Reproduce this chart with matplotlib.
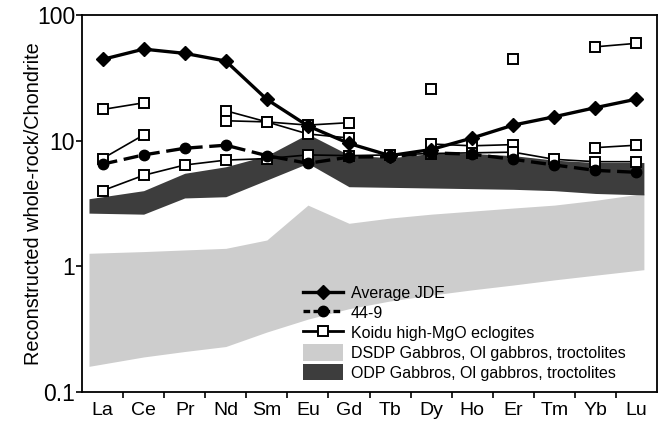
import numpy as np
import matplotlib
matplotlib.use("Agg")
import matplotlib.pyplot as plt
from matplotlib.patches import Patch
from matplotlib.lines import Line2D

plt.rcParams['font.family'] = ['Liberation Sans', 'DejaVu Sans']

# REE elements along the x axis
elements = ['La', 'Ce', 'Pr', 'Nd', 'Sm', 'Eu', 'Gd', 'Tb', 'Dy', 'Ho', 'Er', 'Tm', 'Yb', 'Lu']

# Average JDE
jde = [44.3, 53.5, 49.5, 43.0, 21.3, 13.1, 9.5, 7.6, 8.5, 10.5, 13.3, 15.5, 18.3, 21.4]

# sample 44-9
s449 = [6.5, 7.7, 8.7, 9.2, 7.6, 6.6, 7.4, 7.45, 8.0, 7.8, 7.1, 6.4, 5.8, 5.6]

# Koidu high-MgO eclogites (None = not plotted)
koidu_a = [17.7, 20.0, None, 17.3, 14.1, 13.3, 13.9, None, 25.7, None, 44.4, None, 55.8, 59.5]
koidu_b = [7.2, 11.1, None, 14.4, 14.1, 11.3, 10.5, None, 9.4, 9.1, 9.3, None, 8.8, 9.2]
koidu_c = [4.0, 5.3, 6.4, 7.0, 7.2, 7.7, 7.6, 7.7, 7.9, 8.0, 8.1, 7.1, 6.8, 6.8]

# DSDP gabbros field (light grey)
dsdp_low = [0.16, 0.19, 0.21, 0.23, 0.30, 0.38, 0.46, 0.53, 0.59, 0.65, 0.71, 0.78, 0.85, 0.94]
dsdp_high = [1.27, 1.31, 1.35, 1.39, 1.62, 3.07, 2.2, 2.42, 2.6, 2.75, 2.91, 3.07, 3.35, 3.8]

# ODP gabbros field (dark grey)
odp_low = [2.65, 2.6, 3.5, 3.58, 4.86, 6.6, 4.3, 4.25, 4.2, 4.15, 4.1, 4.0, 3.8, 3.7]
odp_high = [3.45, 4.0, 5.5, 6.2, 7.6, 11.3, 7.7, 7.3, 7.9, 7.9, 7.6, 7.0, 6.7, 6.7]

x = np.arange(len(elements))
# fields reach a little beyond the first and last element
xb = x.astype(float)
xb[0] -= 0.33
xb[-1] += 0.18

def arr(v):
    return np.array([np.nan if a is None else a for a in v], dtype=float)

light = '#cdcdcd'
dark = '#3d3d3d'

fig = plt.figure(figsize=(6.63, 4.22), dpi=100)
ax = fig.add_axes([0.1237, 0.0711, 0.8673, 0.8934])

ax.fill_between(xb, dsdp_low, dsdp_high, color=light, lw=0, zorder=1)
ax.fill_between(xb, odp_low, odp_high, color=dark, lw=0, zorder=2)

for k in (koidu_a, koidu_b, koidu_c):
    ax.plot(x, arr(k), color='black', lw=1.2, marker='s', ms=6.8,
            mfc='white', mec='black', mew=1.4, zorder=3)

ax.plot(x, s449, color='black', lw=2.4, ls=(0, (4.5, 2)), marker='o', ms=7.5,
        zorder=4)
ax.plot(x, jde, color='black', lw=2.4, marker='D', ms=7.5, zorder=5)

ax.set_yscale('log')
ax.set_ylim(0.1, 100)
ax.set_xlim(-0.5, 13.5)
ax.set_yticks([0.1, 1, 10, 100])
ax.set_yticklabels(['0.1', '1', '10', '100'])
ax.yaxis.set_minor_locator(matplotlib.ticker.NullLocator())
ax.tick_params(axis='y', direction='out', length=4, width=1.2, labelsize=16.5, pad=1)

ax.set_xticks(x[:-1] + 0.5)
ax.set_xticklabels([])
ax.set_xticks(x, minor=True)
ax.set_xticklabels(elements, minor=True)
ax.tick_params(axis='x', which='major', direction='out', length=4, width=1.2)
ax.tick_params(axis='x', which='minor', length=0, labelsize=14, pad=7)

ax.set_ylabel('Reconstructed whole-rock/Chondrite', fontsize=14.3, labelpad=-4.5)

for s in ax.spines.values():
    s.set_linewidth(1.3)

handles = [
    Line2D([], [], color='black', lw=2.4, marker='D', ms=7.5),
    Line2D([], [], color='black', lw=2.4, ls=(0, (2, 1)), marker='o', ms=7.5),
    Line2D([], [], color='black', lw=2.0, marker='s', ms=6.5, mfc='white', mew=1.4),
    Patch(facecolor=light, edgecolor='none'),
    Patch(facecolor=dark, edgecolor='none'),
]
labels = ['Average JDE', '44-9', 'Koidu high-MgO eclogites',
          'DSDP Gabbros, Ol gabbros, troctolites',
          'ODP Gabbros, Ol gabbros, troctolites']
ax.legend(handles, labels, loc='upper left', bbox_to_anchor=(0.384, 0.284),
          frameon=False, fontsize=11.5, numpoints=1, handlelength=2.5,
          handleheight=1.2, handletextpad=0.5, labelspacing=0.2,
          borderpad=0, borderaxespad=0)

fig.savefig('out.png', dpi=100)
